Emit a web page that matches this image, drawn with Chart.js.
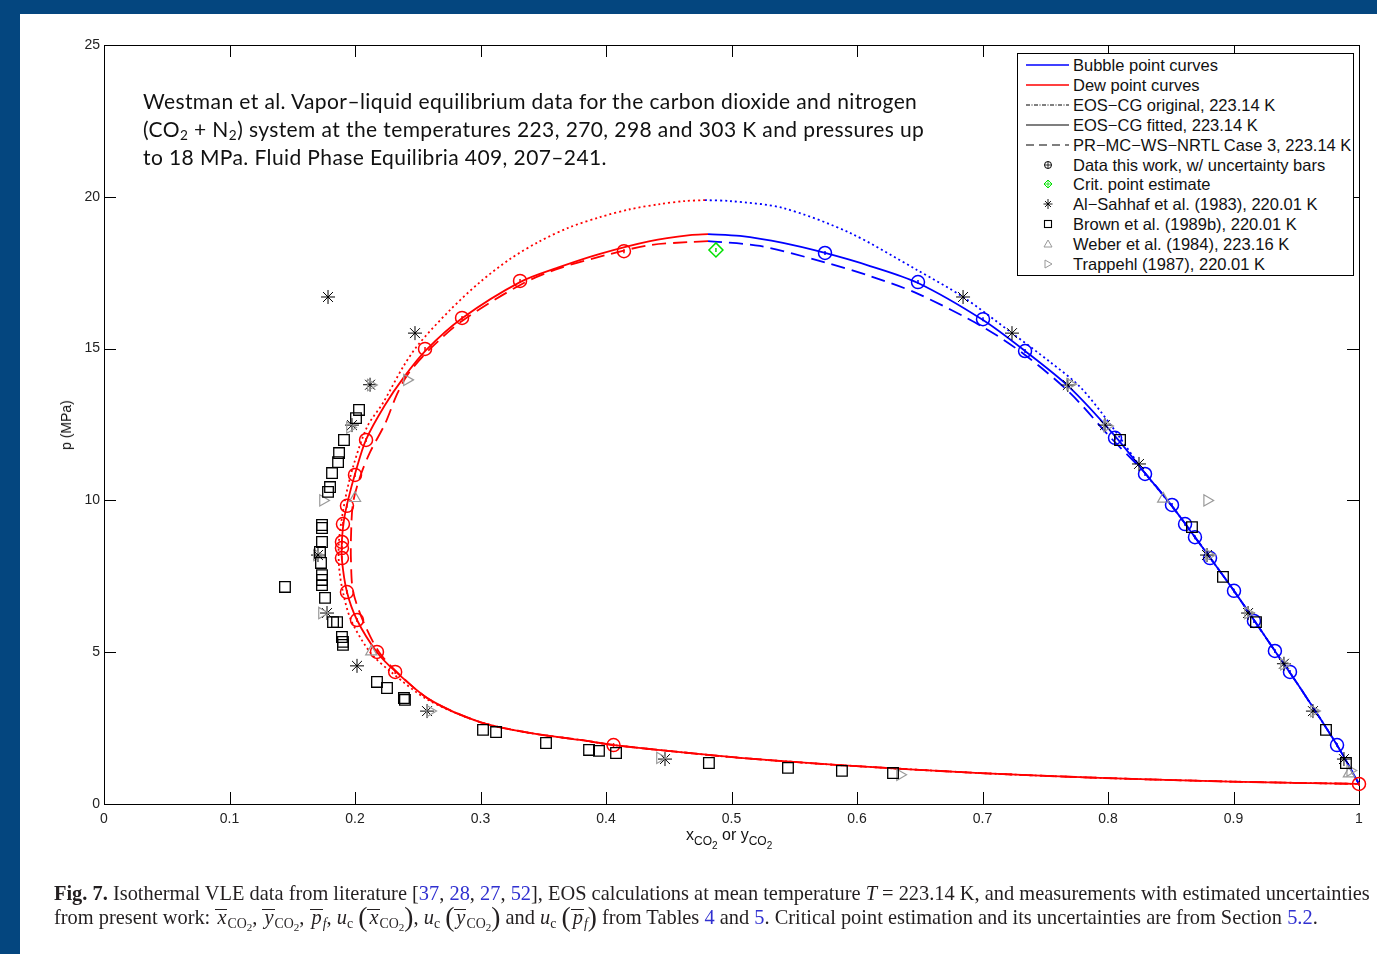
<!DOCTYPE html>
<html>
<head>
<meta charset="utf-8">
<script src="https://cdn.jsdelivr.net/npm/chart.js@4.4.1/dist/chart.umd.min.js"></script>
<style>
  body { margin: 0; width: 1377px; height: 954px; overflow: hidden; position: relative; background: #04467f; font-family: "Liberation Sans", Arial, sans-serif; }
  #paper { position: absolute; left: 20px; top: 14px; right: 0; bottom: 0; background: #fff; }
  #c { position: absolute; left: 0; top: 0; }
  .note { position: absolute; left: 143px; top: 87px; font-family: Lato, sans-serif; font-size: 21px; letter-spacing: 0.4px; line-height: 28px; color: #111; white-space: nowrap; }
  .note sub { font-size: 65%; vertical-align: -3px; line-height: 0; }
  #legend { position: absolute; left: 1017px; top: 53px; width: 335px; height: 221px; border: 1px solid #000; background: #fff; }
  .row { position: absolute; left: 0; height: 20px; line-height: 20px; font-size: 16.5px; color: #111; white-space: nowrap; }
  .row svg { position: absolute; left: 6px; top: 0; }
  .row span { position: absolute; left: 55px; top: 0; }
  .ylab { position: absolute; left: 66px; top: 425px; transform: translate(-50%, -50%) rotate(-90deg); font-size: 14px; color: #111; white-space: nowrap; }
  .xlab { position: absolute; left: 686px; top: 826px; font-size: 16px; color: #111; white-space: nowrap; }
  .xlab sub { font-size: 12px; vertical-align: -5px; line-height: 0; }
  .xlab sub sub { font-size: 10px; vertical-align: -4px; }
  .cap { position: absolute; left: 54px; font-family: "Liberation Serif", "DejaVu Serif", serif; font-size: 20.4px; color: #231f20; white-space: nowrap; line-height: 22px; }
  .cap a { color: #3030d0; text-decoration: none; }
  .cap sub { font-size: 68%; vertical-align: -4px; line-height: 0; }
  .cap sub sub { font-size: 80%; vertical-align: -3px; }
  .cap .ov { display: inline-block; line-height: 14px; border-top: 1px solid #231f20; padding: 0 1px 0 2px; }
  .cap .par { font-size: 135%; line-height: 0; vertical-align: -2px; }
</style>
</head>
<body>
<div id="paper"></div>
<canvas id="c" width="1377" height="954"></canvas>

<div class="note">Westman et al. Vapor–liquid equilibrium data for the carbon dioxide and nitrogen<br>(CO<sub>2</sub> + N<sub>2</sub>) system at the temperatures 223, 270, 298 and 303 K and pressures up<br>to 18 MPa. Fluid Phase Equilibria 409, 207–241.</div>

<div id="legend"></div>
<div class="ylab">p (MPa)</div>
<div class="xlab">x<sub>CO<sub>2</sub></sub> or y<sub>CO<sub>2</sub></sub></div>

<div class="cap" style="top:882px"><b>Fig. 7.</b> Isothermal VLE data from literature [<a>37</a>, <a>28</a>, <a>27</a>, <a>52</a>], EOS calculations at mean temperature <i>T</i> = 223.14 K, and measurements with estimated uncertainties</div>
<div class="cap" style="top:906px">from present work: <i class="ov">x</i><sub>CO<sub>2</sub></sub>, <i class="ov">y</i><sub>CO<sub>2</sub></sub>, <i class="ov">p</i><sub><i>f</i></sub>, <i>u</i><sub>c</sub> <span class="par">(</span><i class="ov">x</i><sub>CO<sub>2</sub></sub><span class="par">)</span>, <i>u</i><sub>c</sub> <span class="par">(</span><i class="ov">y</i><sub>CO<sub>2</sub></sub><span class="par">)</span> and <i>u</i><sub>c</sub> <span class="par">(</span><i class="ov">p</i><sub><i>f</i></sub><span class="par">)</span> from Tables <a>4</a> and <a>5</a>. Critical point estimation and its uncertainties are from Section <a>5.2</a>.</div>

<script>
// axis ticks
const xTicks = [0, 0.1, 0.2, 0.3, 0.4, 0.5, 0.6, 0.7, 0.8, 0.9, 1];
const yTicks = [0, 5, 10, 15, 20, 25];

// EOS-CG fitted (solid)
const fitDewX = [0.4813, 0.4669, 0.4351, 0.3952, 0.3633, 0.3315, 0.2853, 0.2566, 0.239, 0.2239, 0.2088, 0.200, 0.1944, 0.1912, 0.1896, 0.1896, 0.1936, 0.2016, 0.2175, 0.2327, 0.2598, 0.2996, 0.3394, 0.3793, 0.4064, 0.4590, 0.5068, 0.5865, 0.6980, 0.7936, 0.8972, 1.0];
const fitDewP = [18.77, 18.74, 18.54, 18.12, 17.69, 17.19, 16.0, 14.95, 14.06, 13.14, 12.0, 10.87, 10.0, 9.35, 8.70, 8.04, 6.98, 6.06, 5.0, 4.35, 3.43, 2.70, 2.34, 2.11, 1.94, 1.71, 1.52, 1.28, 1.02, 0.86, 0.74, 0.66];
const fitBubX = [0.4813, 0.5068, 0.541, 0.5745, 0.6104, 0.6486, 0.7004, 0.7339, 0.770, 0.8056, 0.8295, 0.851, 0.8693, 0.9004, 0.933, 0.9532, 0.9825, 1.0];
const fitBubP = [18.77, 18.71, 18.48, 18.15, 17.72, 17.16, 15.94, 14.92, 13.70, 12.12, 10.90, 9.81, 8.79, 7.02, 5.04, 3.82, 1.94, 0.66];

// EOS-CG original (dotted)
const orgDewX = [0.4789, 0.4629, 0.4430, 0.4191, 0.3952, 0.3713, 0.3474, 0.3235, 0.2996, 0.2757, 0.2502, 0.2382, 0.2223, 0.2096, 0.1984, 0.1920, 0.1873, 0.1873, 0.1904, 0.1968, 0.2120, 0.2287, 0.2582, 0.2996, 0.3394, 0.3793, 0.4064, 0.4590, 0.5068, 0.5865, 0.6980, 0.7936, 0.8972, 1.0];
const orgDewP = [19.89, 19.86, 19.76, 19.59, 19.33, 19.00, 18.54, 17.95, 17.19, 16.27, 15.12, 14.39, 13.21, 12.42, 11.10, 10.0, 8.70, 7.81, 6.98, 6.06, 5.0, 4.35, 3.43, 2.70, 2.34, 2.11, 1.94, 1.71, 1.52, 1.28, 1.02, 0.86, 0.74, 0.66];
const orgBubX = [0.4789, 0.4988, 0.541, 0.5944, 0.6478, 0.6845, 0.7235, 0.7538, 0.7777, 0.8016, 0.8295, 0.851, 0.8693, 0.9004, 0.933, 0.9532, 0.9825, 1.0];
const orgBubP = [19.89, 19.86, 19.63, 18.81, 17.59, 16.70, 15.51, 14.56, 13.74, 12.52, 10.90, 9.81, 8.79, 7.02, 5.04, 3.82, 1.94, 0.66];

// PR-MC-WS-NRTL (dashed)
const prDewX = [0.4813, 0.4669, 0.4351, 0.4000, 0.3633, 0.3331, 0.2853, 0.2598, 0.2422, 0.2335, 0.2239, 0.2120, 0.2040, 0.1984, 0.1968, 0.1968, 0.1984, 0.2064, 0.2191, 0.2343, 0.2598, 0.2996, 0.3394, 0.3793, 0.4064, 0.4590, 0.5068, 0.5865, 0.6980, 0.7936, 0.8972, 1.0];
const prDewP = [18.54, 18.51, 18.41, 18.08, 17.65, 17.13, 15.91, 14.99, 14.16, 13.50, 12.52, 11.59, 10.77, 9.91, 8.79, 8.00, 7.02, 6.03, 5.01, 4.31, 3.43, 2.70, 2.34, 2.11, 1.94, 1.71, 1.52, 1.28, 1.02, 0.86, 0.74, 0.66];
const prBubX = [0.4813, 0.5227, 0.5745, 0.6104, 0.6478, 0.7004, 0.7339, 0.7697, 0.8016, 0.8295, 0.851, 0.8693, 0.9004, 0.933, 0.9532, 0.9825, 1.0];
const prBubP = [18.54, 18.38, 17.84, 17.39, 16.82, 15.71, 14.79, 13.54, 12.09, 10.90, 9.81, 8.79, 7.02, 5.04, 3.82, 1.94, 0.66];

// data this work
const ownDewX = [0.406, 0.232, 0.2175, 0.2016, 0.1936, 0.1896, 0.1896, 0.1896, 0.1904, 0.1936, 0.200, 0.2088, 0.2558, 0.2853, 0.3315, 0.4143, 1.0];
const ownDewP = [1.94, 4.35, 5.01, 6.06, 6.98, 8.10, 8.43, 8.63, 9.22, 9.82, 10.84, 11.99, 14.99, 16.01, 17.23, 18.21, 0.66];
const ownBubX = [0.5745, 0.6486, 0.7004, 0.7339, 0.8056, 0.8295, 0.851, 0.8614, 0.8693, 0.8813, 0.9004, 0.9163, 0.933, 0.945, 0.9825];
const ownBubP = [18.15, 17.19, 15.97, 14.92, 12.06, 10.87, 9.85, 9.22, 8.79, 8.10, 7.02, 6.03, 5.04, 4.35, 1.94];

// critical point estimate
const critX = [0.4876];
const critP = [18.25];

// Al-Sahhaf et al. (1983)
const sahX = [0.1785, 0.2478, 0.2120, 0.1976, 0.1705, 0.1777, 0.2016, 0.2574, 0.447, 0.6845, 0.7235, 0.768, 0.7976, 0.8247, 0.8789, 0.9116, 0.9402, 0.9633, 0.988];
const sahP = [16.7, 15.51, 13.81, 12.48, 8.2, 6.29, 4.55, 3.06, 1.48, 16.7, 15.51, 13.8, 12.48, 11.2, 8.2, 6.29, 4.62, 3.06, 1.48];

// Brown et al. (1989b)
const brownX = [0.2032, 0.2008, 0.1912, 0.1873, 0.1865, 0.1817, 0.1801, 0.1785, 0.1737, 0.1737, 0.1737, 0.1721, 0.1729, 0.1737, 0.1737, 0.1737, 0.1761, 0.1825, 0.1857, 0.1896, 0.1904, 0.1904, 0.1442, 0.2175, 0.2255, 0.2390, 0.2398, 0.302, 0.3124, 0.3522, 0.3865, 0.3944, 0.408, 0.482, 0.545, 0.588, 0.6287, 0.8096, 0.8669, 0.8916, 0.9179, 0.9737, 0.9896];
const brownP = [12.98, 12.71, 11.99, 11.56, 11.26, 10.90, 10.44, 10.28, 9.19, 9.09, 8.63, 8.30, 7.94, 7.54, 7.38, 7.21, 6.79, 5.99, 5.99, 5.50, 5.34, 5.24, 7.15, 4.02, 3.82, 3.49, 3.43, 2.44, 2.37, 2.01, 1.78, 1.75, 1.68, 1.35, 1.19, 1.09, 1.02, 11.99, 9.12, 7.48, 5.99, 2.44, 1.35];

// Weber et al. (1984)
const weberX = [0.200, 0.844, 0.213, 0.992];
const weberP = [10.07, 10.05, 5.02, 1.0];

// Trappehl (1987)
const trapX = [0.1745, 0.1697, 0.1737, 0.2598, 0.443, 0.6343, 0.2126, 0.2414, 0.196, 0.7697, 0.7992, 0.879, 0.8805, 0.9116, 0.9402, 0.9641, 0.993];
const trapP = [10.0, 8.2, 6.29, 3.06, 1.52, 0.96, 13.8, 13.97, 12.4, 13.83, 12.45, 10.0, 8.2, 6.29, 4.6, 3.06, 1.1];

const legendLabels = [
  "Bubble point curves",
  "Dew point curves",
  "EOS\u2212CG original, 223.14 K",
  "EOS\u2212CG fitted, 223.14 K",
  "PR\u2212MC\u2212WS\u2212NRTL Case 3, 223.14 K",
  "Data this work, w/ uncertainty bars",
  "Crit. point estimate",
  "Al\u2212Sahhaf et al. (1983), 220.01 K",
  "Brown et al. (1989b), 220.01 K",
  "Weber et al. (1984), 223.16 K",
  "Trappehl (1987), 220.01 K"
];

function pts(xs, ps) {
  return xs.map((x, i) => ({ x: x, y: ps[i] }));
}

const BLUE = "#0000ff";
const RED = "#ff0000";
const GREY = "#9a9a9a";

function curve(xs, ps, color, dash) {
  return {
    data: pts(xs, ps), showLine: true, borderColor: color, borderWidth: 1.8,
    borderDash: dash, pointRadius: 0, tension: 0.3, fill: false, order: 10
  };
}

function marks(xs, ps, style, color, radius, extra) {
  return Object.assign({
    data: pts(xs, ps), showLine: false, pointStyle: style, pointRadius: radius,
    pointBorderColor: color, pointBackgroundColor: "rgba(0,0,0,0)", pointBorderWidth: 1.2, order: 1
  }, extra || {});
}

// box round the plot with inward ticks on every side
const boxTicks = {
  id: "boxTicks",
  beforeDatasetsDraw(chart) {
    const { ctx, chartArea: a, scales: { x, y } } = chart;
    ctx.save();
    ctx.strokeStyle = "#000";
    ctx.lineWidth = 1;
    ctx.strokeRect(a.left + 0.5, a.top + 0.5, a.right - a.left, a.bottom - a.top);
    ctx.beginPath();
    xTicks.forEach(v => {
      const px = Math.round(x.getPixelForValue(v)) + 0.5;
      ctx.moveTo(px, a.bottom); ctx.lineTo(px, a.bottom - 12);
      ctx.moveTo(px, a.top); ctx.lineTo(px, a.top + 12);
    });
    yTicks.forEach(v => {
      const py = Math.round(y.getPixelForValue(v)) + 0.5;
      ctx.moveTo(a.left, py); ctx.lineTo(a.left + 12, py);
      ctx.moveTo(a.right, py); ctx.lineTo(a.right - 12, py);
    });
    ctx.stroke();
    ctx.restore();
  }
};

new Chart(document.getElementById("c"), {
  type: "scatter",
  data: {
    datasets: [
      curve(fitBubX, fitBubP, BLUE, []),
      curve(fitDewX, fitDewP, RED, []),
      curve(orgBubX, orgBubP, BLUE, [2, 3]),
      curve(orgDewX, orgDewP, RED, [2, 3]),
      curve(prBubX, prBubP, BLUE, [14, 7]),
      curve(prDewX, prDewP, RED, [14, 7]),
      marks(brownX, brownP, "rect", "#000", 7.5, { pointBorderWidth: 1.3 }),
      marks(weberX, weberP, "triangle", GREY, 6.5),
      marks(trapX, trapP, "triangle", GREY, 6.5, { pointRotation: 90 }),
      marks(sahX, sahP, "star", "#000", 7, { pointBorderWidth: 1 }),
      marks(ownDewX, ownDewP, "circle", RED, 6.5, { pointBorderWidth: 1.5 }),
      marks(ownBubX, ownBubP, "circle", BLUE, 6.5, { pointBorderWidth: 1.5 }),
      marks(ownDewX, ownDewP, "line", RED, 2, { pointRotation: 90, pointBorderWidth: 1.5 }),
      marks(ownBubX, ownBubP, "line", BLUE, 2, { pointRotation: 90, pointBorderWidth: 1.5 }),
      marks(critX, critP, "rectRot", "#00e000", 7, { pointBorderWidth: 1.5 }),
      marks(critX, critP, "line", "#00e000", 2, { pointRotation: 90, pointBorderWidth: 1.5 })
    ]
  },
  options: {
    responsive: false,
    animation: false,
    events: [],
    clip: false,
    layout: { padding: { left: 40, top: 45, right: 18, bottom: 120 } },
    plugins: { legend: { display: false }, tooltip: { enabled: false } },
    scales: {
      x: {
        type: "linear", min: 0, max: 1,
        afterBuildTicks: s => { s.ticks = xTicks.map(v => ({ value: v })); },
        afterFit: s => { s.height = 30; },
        grid: { display: false, drawTicks: false },
        border: { display: false },
        ticks: { padding: 7, color: "#222", font: { family: "Liberation Sans", size: 14 }, callback: v => String(v), maxRotation: 0 }
      },
      y: {
        type: "linear", min: 0, max: 25,
        afterBuildTicks: s => { s.ticks = yTicks.map(v => ({ value: v })); },
        afterFit: s => { s.width = 64; },
        grid: { display: false, drawTicks: false },
        border: { display: false },
        ticks: { padding: 4, color: "#222", font: { family: "Liberation Sans", size: 14 }, callback: v => String(v) }
      }
    }
  },
  plugins: [boxTicks]
});

// legend glyphs
const glyphs = [
  '<line x1="2" y1="10" x2="45" y2="10" stroke="#0000ff" stroke-width="1.5"/>',
  '<line x1="2" y1="10" x2="45" y2="10" stroke="#ff0000" stroke-width="1.5"/>',
  '<line x1="2" y1="10" x2="45" y2="10" stroke="#000" stroke-width="1" stroke-dasharray="4,1.5,1,1.5"/>',
  '<line x1="2" y1="10" x2="45" y2="10" stroke="#000" stroke-width="1.2"/>',
  '<line x1="2" y1="10" x2="45" y2="10" stroke="#000" stroke-width="1.2" stroke-dasharray="8,5"/>',
  '<circle cx="24" cy="10" r="3.5" fill="none" stroke="#000" stroke-width="1"/><path d="M24 7v6M21 10h6" stroke="#000" stroke-width="0.8"/>',
  '<path d="M24 6l4 4-4 4-4-4z" fill="none" stroke="#00e000" stroke-width="1"/><path d="M24 7v6M21 10h6" stroke="#00e000" stroke-width="0.8"/>',
  '<path d="M24 5v10M19.5 10h9M21 7l6 6M27 7l-6 6" stroke="#000" stroke-width="0.9"/>',
  '<rect x="20.5" y="6.5" width="7" height="7" fill="none" stroke="#000" stroke-width="1.1"/>',
  '<path d="M24 6l4 7h-8z" fill="none" stroke="#999" stroke-width="1"/>',
  '<path d="M21 6l7 4-7 4z" fill="none" stroke="#999" stroke-width="1"/>'
];
const legend = document.getElementById("legend");
legendLabels.forEach((label, i) => {
  const row = document.createElement("div");
  row.className = "row";
  row.style.top = (1 + i * 19.9) + "px";
  row.innerHTML = '<svg width="48" height="20">' + glyphs[i] + '</svg><span>' + label + '</span>';
  legend.appendChild(row);
});
</script>
</body>
</html>
